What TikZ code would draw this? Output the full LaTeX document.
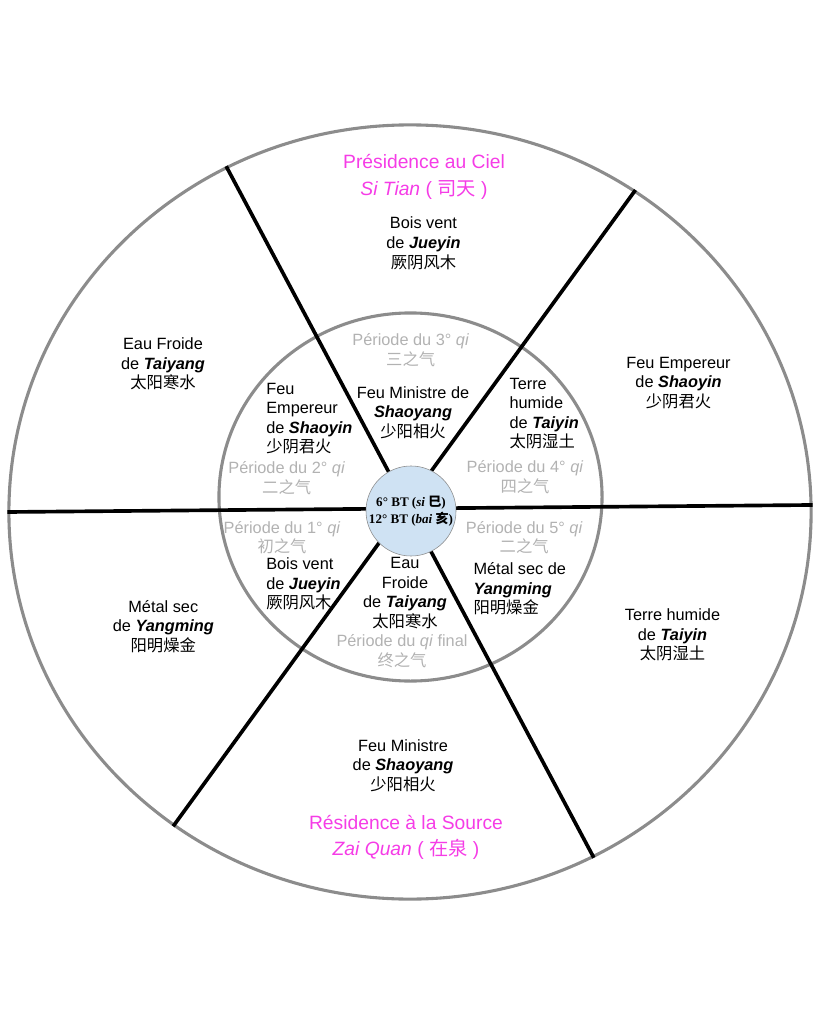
\documentclass[tikz,border=0pt]{standalone}
\usepackage{fontspec}
\setmainfont{Liberation Sans}
\newfontfamily\cjk{Noto Sans CJK SC}
\newfontfamily\tnr{Liberation Serif}
\usepackage{tikz}
\usetikzlibrary{shapes.geometric}
\definecolor{ringgray}{RGB}{140,140,140}
\definecolor{pgray}{RGB}{178,178,178}
\definecolor{rose}{RGB}{245,60,230}
\definecolor{bleu}{RGB}{207,226,243}
\newcommand{\hanzi}[1]{{\cjk #1}}
\newcommand{\bfit}[1]{\textbf{\textit{#1}}}
\begin{document}
\begin{tikzpicture}[x=0.025cm,y=-0.025cm,
    txt/.style={font=\fontsize{11.6}{13.9}\selectfont,align=center,inner sep=0pt},
    txtl/.style={txt,align=left,anchor=west},
    per/.style={txt,text=pgray},
    titre/.style={font=\fontsize{13.7}{18.9}\selectfont,align=center,inner sep=0pt,text=rose},
    ring/.style={draw=ringgray,line width=2.2pt,ellipse,inner sep=0pt},
    spoke/.style={line width=2.6pt,black}]
    \useasboundingbox (0,0) rectangle (819,1024);
    %% rings
     \node (outer) [ring,minimum width=20.05cm,minimum height=19.35cm] at (410,512) {};
     \node (inner) [ring,minimum width=9.575cm,minimum height=9.2cm] at (410.5,497) {};

     \draw[spoke] (outer.118) -- (outer.-62);
     \draw[spoke] (outer.55) -- (outer.233);
     \draw[spoke] (outer.180) -- (outer.1);

     \node (c) [circle,fill=bleu,draw=ringgray,line width=0.4pt,minimum size=2.25cm,inner sep=0pt,align=center,
        font=\fontsize{9.3}{11.9}\selectfont\tnr\bfseries] at (411,511)
        {6° BT (\textit{si} \hanzi{巳})\\12° BT (\textit{bai} \hanzi{亥})};

    %% outer sectors
     \node (s1) [titre] at (424,176.7) {Présidence au Ciel\\\textit{Si Tian} ( \hanzi{司天} )};
     \node (s2) [txt] at (423.5,243.3) {Bois vent\\de \bfit{Jueyin}\\\hanzi{厥阴风木}};
     \node (s3) [txt] at (163,364) {Eau Froide\\de \bfit{Taiyang}\\\hanzi{太阳寒水}};
     \node (s4) [txt] at (163.3,626.3) {Métal sec\\de \bfit{Yangming}\\\hanzi{阳明燥金}};
     \node (s5) [txt] at (678.5,383) {Feu Empereur\\de \bfit{Shaoyin}\\\hanzi{少阴君火}};
     \node (s6) [txt] at (672.5,635) {Terre humide\\de \bfit{Taiyin}\\\hanzi{太阴湿土}};
     \node (s7) [txt] at (403,765.5) {Feu Ministre\\de \bfit{Shaoyang}\\\hanzi{少阳相火}};
     \node (s8) [titre] at (406,837.5) {Résidence à la Source\\\textit{Zai Quan} ( \hanzi{在泉} )};

    %% inner sectors
     \node (i1) [txtl] at (266,418.6) {Feu\\Empereur\\de \bfit{Shaoyin}\\\hanzi{少阴君火}};
     \node (i2) [txt] at (413,412.5) {Feu Ministre de\\\bfit{Shaoyang}\\\hanzi{少阳相火}};
     \node (i3) [txtl] at (509.3,413.7) {Terre\\humide\\de \bfit{Taiyin}\\\hanzi{太阴湿土}};
     \node (i4) [txtl] at (266,584) {Bois vent\\de \bfit{Jueyin}\\\hanzi{厥阴风木}};
     \node (i5) [txt] at (405,593.3) {Eau\\Froide\\de \bfit{Taiyang}\\\hanzi{太阳寒水}};
     \node (i6) [txtl] at (473.3,589) {Métal sec de\\\bfit{Yangming}\\\hanzi{阳明燥金}};

    %% periods
     \node (p3) [per] at (410.7,350) {Période du 3° \textit{qi}\\\hanzi{三之气}};
     \node (p2) [per] at (286.7,478.3) {Période du 2° \textit{qi}\\\hanzi{二之气}};
     \node (p4) [per] at (525,477) {Période du 4° \textit{qi}\\\hanzi{四之气}};
     \node (p1) [per] at (282,537.8) {Période du 1° \textit{qi}\\\hanzi{初之气}};
     \node (p5) [per] at (524.2,537.8) {Période du 5° \textit{qi}\\\hanzi{二之气}};
     \node (p6) [per] at (402,651.2) {Période du \textit{qi} final\\\hanzi{终之气}};
\end{tikzpicture}
\end{document}
